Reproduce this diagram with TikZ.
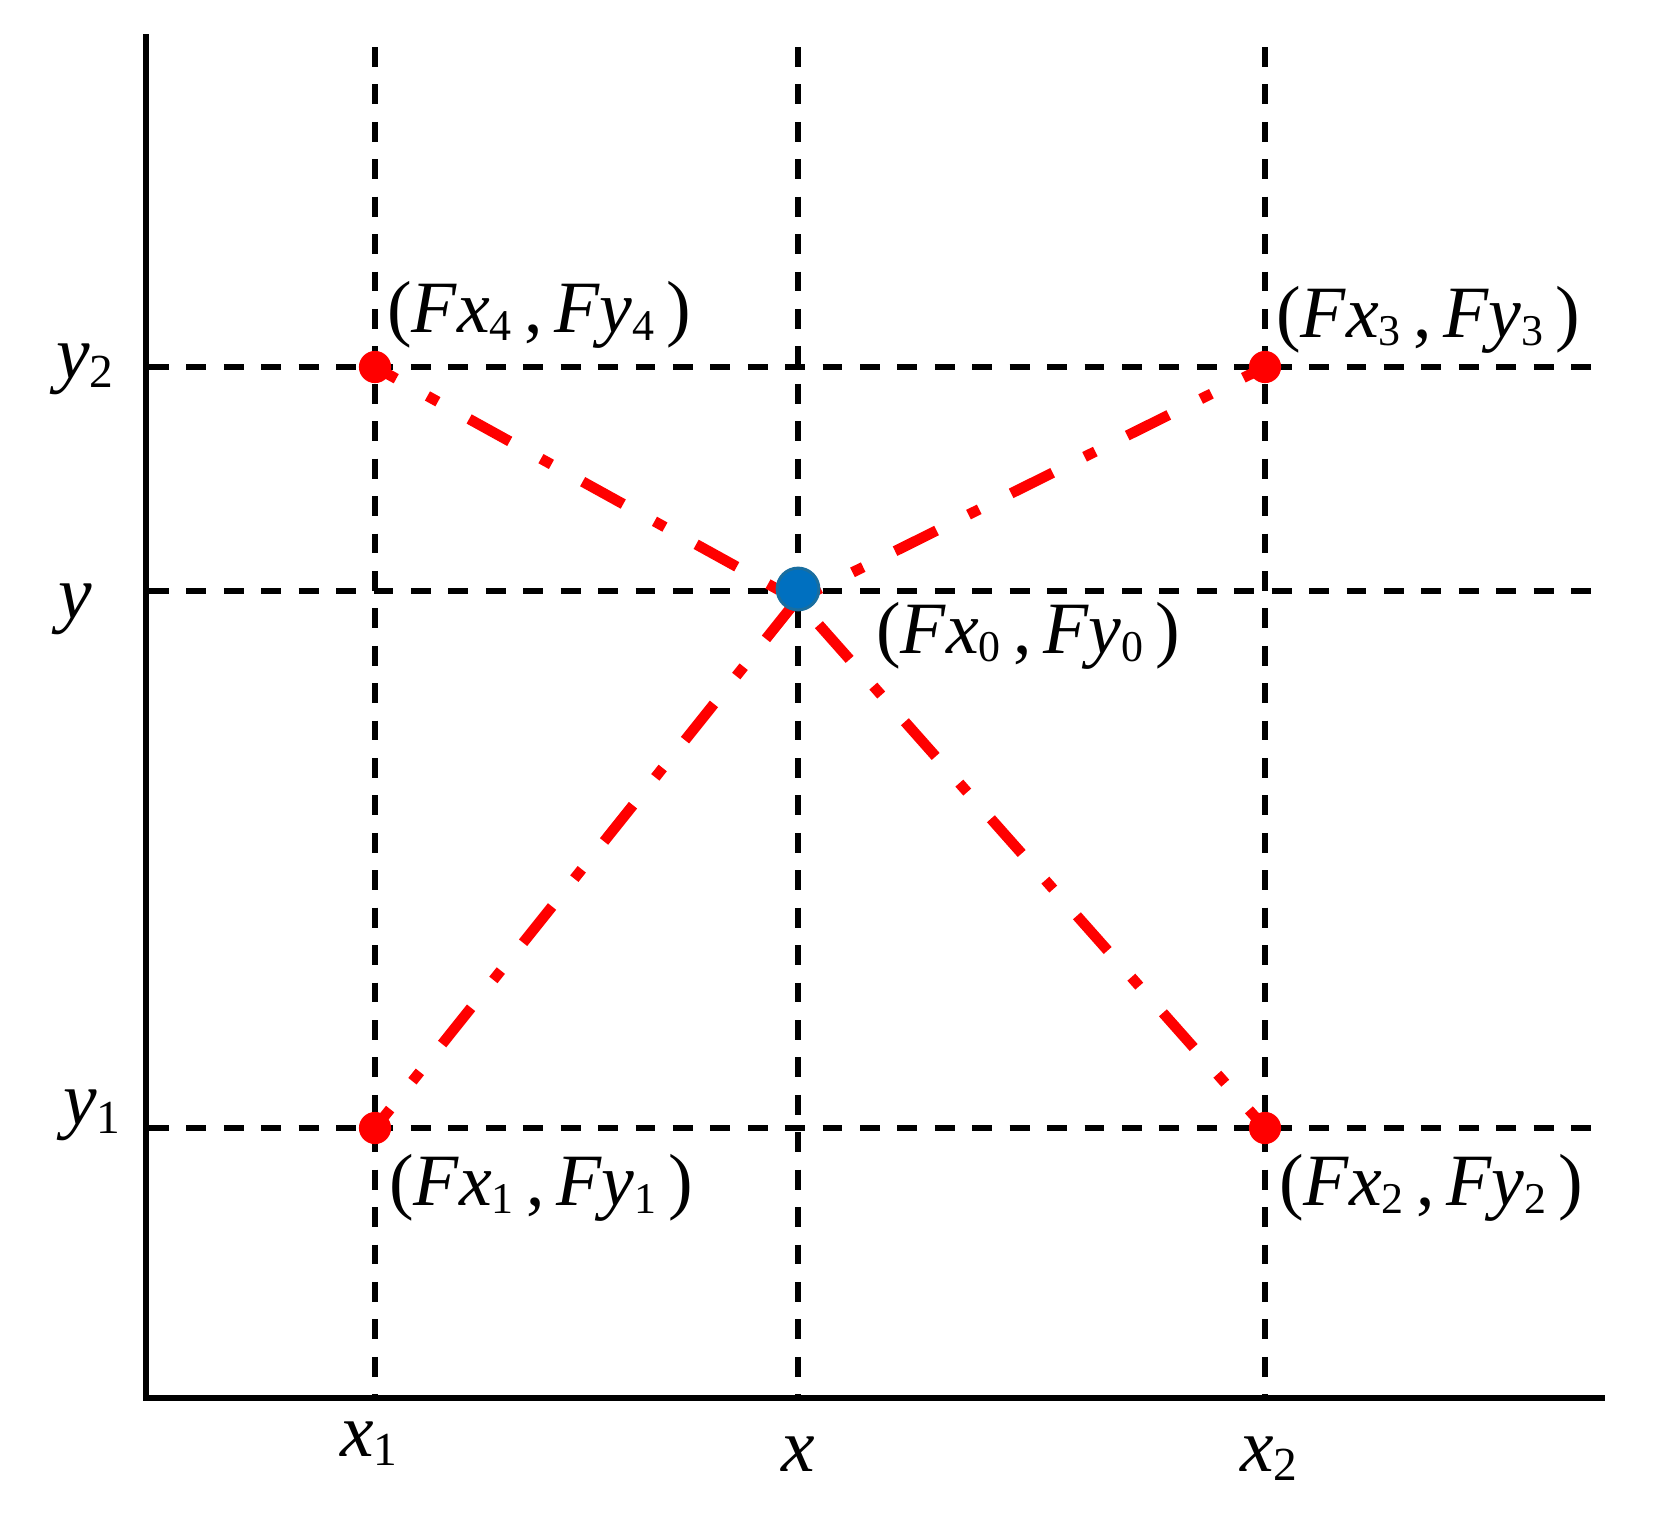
\documentclass[tikz,border=0pt]{standalone}
\usepackage{fontspec}
\setmainfont{Liberation Serif}
\usetikzlibrary{backgrounds}
\definecolor{ptblue}{RGB}{0,112,192}
\definecolor{ptring}{RGB}{25,110,160}
\newcommand{\sbs}[1]{\raisebox{-0.12em}{\fontsize{25}{25}\selectfont #1}}
\newcommand{\asbs}[1]{\raisebox{-0.12em}{\fontsize{27}{27}\selectfont #1}}
\tikzset{
  axisline/.style={line width=3.4pt, line join=miter},
  gridline/.style={line width=3.1pt, dash pattern=on 11.3pt off 10pt},
  link/.style={red, line width=6pt, dash pattern=on 26.4pt off 20.3pt on 6.8pt off 20.3pt, dash phase=12.6pt},
  rdot/.style={circle, fill=red, minimum size=18.3pt, inner sep=0pt},
  bdot/.style={circle, fill=ptblue, draw=ptring, line width=1.7pt, minimum size=23.8pt, inner sep=0pt},
  lab/.style={inner sep=0pt, font=\fontsize{42}{48}\selectfont},
  axlab/.style={inner sep=0pt, font=\fontsize{43}{50}\selectfont},
}
\begin{document}
\begin{tikzpicture}[x=0.02cm, y=-0.02cm]
\useasboundingbox (0,0) rectangle (1659,1528);

% points
\node[rdot] (p1) at (375,1128) {};
\node[rdot] (p2) at (1265,1128) {};
\node[rdot] (p3) at (1265,367) {};
\node[rdot] (p4) at (375,367) {};
\node[bdot] (p0) at (798,589) {};
\coordinate (m) at (797,600);

% labels
\node[lab, anchor=base west] (l4) at (387,332) {(\textit{Fx}\sbs{4}\,,\,\textit{Fy}\sbs{4}\,)};
\node[lab, anchor=base west] (l3) at (1276,337) {(\textit{Fx}\sbs{3}\,,\,\textit{Fy}\sbs{3}\,)};
\node[lab, anchor=base west] (l0) at (876,653) {(\textit{Fx}\sbs{0}\,,\,\textit{Fy}\sbs{0}\,)};
\node[lab, anchor=base west] (l1) at (389,1205) {(\textit{Fx}\sbs{1}\,,\,\textit{Fy}\sbs{1}\,)};
\node[lab, anchor=base west] (l2) at (1279,1205) {(\textit{Fx}\sbs{2}\,,\,\textit{Fy}\sbs{2}\,)};

\node[axlab, anchor=base west] (ly2) at (56,378) {\textit{y}\asbs{2}};
\node[axlab, anchor=base west] (ly) at (58,618) {\textit{y}};
\node[axlab, anchor=base west] (ly1) at (63,1124) {\textit{y}\asbs{1}};
\node[axlab, anchor=base west] (lx1) at (340,1456) {\textit{x}\asbs{1}};
\node[axlab, anchor=base] (lx) at (798,1471) {\textit{x}};
\node[axlab, anchor=base west] (lx2) at (1240,1471) {\textit{x}\asbs{2}};

\begin{scope}[on background layer]
  % grid
  \draw[gridline] (375,47) -- (375,1398);
  \draw[gridline] (798,47) -- (798,1398);
  \draw[gridline] (1265,47) -- (1265,1398);
  \draw[gridline] (149,367) -- (1605,367);
  \draw[gridline] (149,591) -- (1605,591);
  \draw[gridline] (149,1128) -- (1605,1128);
  % axes
  \draw[axisline] (146,34) -- (146,1398) -- (1605,1398);
  % links
  \draw[link] (p1.center) -- (m);
  \draw[link] (p2.center) -- (m);
  \draw[link] (p3.center) -- (m);
  \draw[link] (p4.center) -- (m);
\end{scope}
\end{tikzpicture}
\end{document}
